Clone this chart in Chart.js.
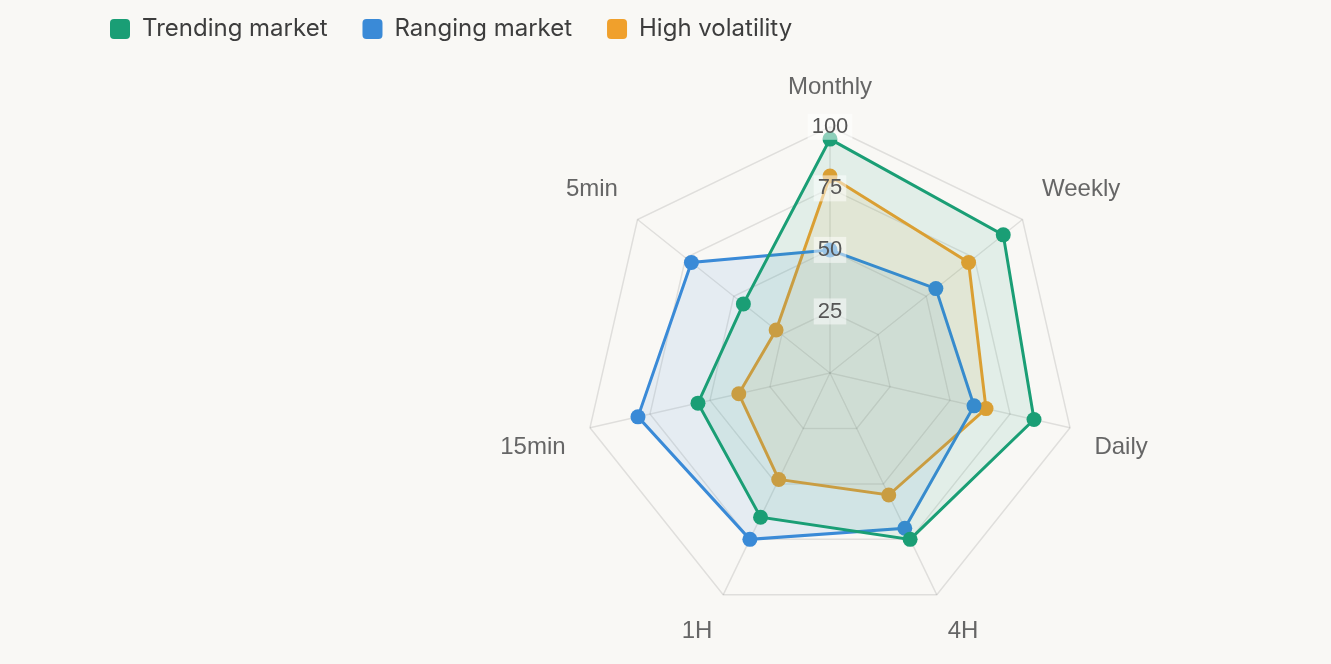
<!DOCTYPE html>
<html>
<head>
<meta charset="utf-8">
<title>Market regime by timeframe</title>
<script src="https://cdn.jsdelivr.net/npm/chart.js@4.4.1/dist/chart.umd.min.js"></script>
<style>
    html, body {
        margin: 0;
        padding: 0;
        background: #f9f8f5;
        overflow: hidden;
    }
    /* wider than the window so the radar lands right of centre */
    #chartWrap {
        position: relative;
        width: 1585px;
        height: 659px;
    }
</style>
</head>
<body>
<div id="chartWrap">
    <canvas id="regimeChart"></canvas>
</div>
<script>
// Timeframes around the radar (clockwise from the top)
const timeframes = ['Monthly', 'Weekly', 'Daily', '4H', '1H', '15min', '5min'];

// Scores per market regime
const trendingValues = [95, 90, 85, 75, 65, 55, 45];
const rangingValues = [50, 55, 60, 70, 75, 80, 72];
const volatilityValues = [80, 72, 65, 55, 48, 38, 28];

// Radial axis
const scoreMin = 0;
const scoreMax = 100;
const scoreStep = 25;

const GREEN = '#1a9e75';
const BLUE = '#3a8ad7';
const ORANGE = '#f0a02c';

// Give the legend a fixed height so the radar sits where it should
const legendHeight = {
    id: 'legendHeight',
    beforeInit(chart) {
        const originalFit = chart.legend.fit;
        chart.legend.fit = function fit() {
            originalFit.call(this);
            this.height = 77;
        };
    }
};

function makeDataset(label, values, color, fill) {
    return {
        label: label,
        data: values,
        borderColor: color,
        backgroundColor: fill,
        pointBackgroundColor: color,
        pointBorderColor: color,
        pointBorderWidth: 0,
        pointRadius: 7.5,
        pointHoverRadius: 8.5,
        borderWidth: 3,
        fill: true
    };
}

const ctx = document.getElementById('regimeChart').getContext('2d');

new Chart(ctx, {
    type: 'radar',
    data: {
        labels: timeframes,
        datasets: [
            makeDataset('Trending market', trendingValues, GREEN, 'rgba(26, 158, 117, 0.1)'),
            makeDataset('Ranging market', rangingValues, BLUE, 'rgba(58, 138, 215, 0.1)'),
            makeDataset('High volatility', volatilityValues, ORANGE, 'rgba(240, 160, 44, 0.1)')
        ]
    },
    options: {
        responsive: true,
        maintainAspectRatio: false,
        animation: false,
        layout: {
            padding: { top: -18, left: 75, right: 0, bottom: 0 }
        },
        plugins: {
            legend: {
                position: 'top',
                align: 'start',
                labels: {
                    boxWidth: 20,
                    boxHeight: 20,
                    useBorderRadius: true,
                    borderRadius: 4,
                    padding: 35,
                    color: '#3d3d3d',
                    font: { family: 'Inter, "Noto Sans", sans-serif', size: 24 },
                    // solid swatches in the line colour
                    generateLabels(chart) {
                        const items = Chart.defaults.plugins.legend.labels.generateLabels(chart);
                        items.forEach(item => {
                            item.fillStyle = item.strokeStyle;
                            item.lineWidth = 0;
                        });
                        return items;
                    }
                }
            },
            tooltip: { enabled: true }
        },
        scales: {
            r: {
                min: scoreMin,
                max: scoreMax,
                ticks: {
                    stepSize: scoreStep,
                    z: 1,
                    color: '#555',
                    backdropColor: 'rgba(255, 255, 255, 0.5)',
                    backdropPadding: { x: 4, y: 2 },
                    font: { family: '"Liberation Sans", Arial, sans-serif', size: 22, lineHeight: 1 }
                },
                grid: {
                    color: 'rgba(0, 0, 0, 0.1)',
                    lineWidth: 1.5
                },
                angleLines: {
                    color: 'rgba(0, 0, 0, 0.1)',
                    lineWidth: 1.5
                },
                pointLabels: {
                    color: '#666',
                    padding: 12,
                    font: { family: '"Liberation Sans", Arial, sans-serif', size: 24 }
                }
            }
        }
    },
    plugins: [legendHeight]
});
</script>
</body>
</html>
